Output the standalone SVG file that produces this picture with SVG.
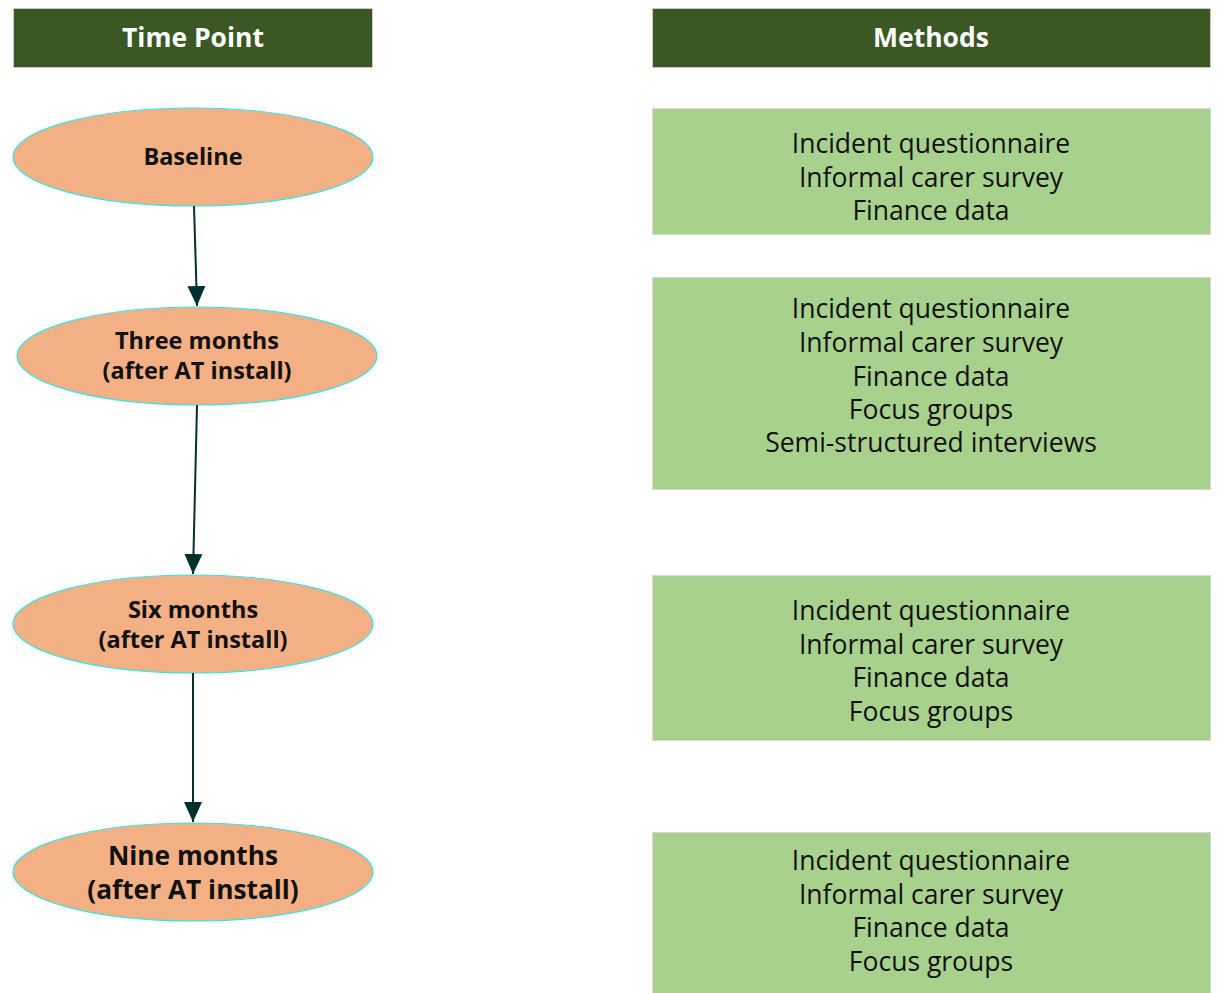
<svg xmlns="http://www.w3.org/2000/svg" width="1218" height="993" viewBox="0 0 1218 993">
<style>
.hdr{fill:#3a5724;stroke:#c8c8c8;stroke-width:1}
.hdrt{font-family:"Open Sans","Noto Sans",sans-serif;font-weight:bold;font-size:26.5px;fill:#ffffff;text-anchor:middle}
.ell{fill:#f3b085;stroke:#33e6e6;stroke-width:1.2}
.et{font-family:"Open Sans","Noto Sans",sans-serif;font-weight:bold;font-size:23.5px;fill:#111111;text-anchor:middle}
.et2{font-family:"Open Sans","Noto Sans",sans-serif;font-weight:bold;font-size:26.3px;fill:#111111;text-anchor:middle}
.box{fill:#a9d18e;stroke:#d8d8d8;stroke-width:1}
.bt{font-family:"Open Sans","Noto Sans",sans-serif;font-size:26.5px;fill:#111111;text-anchor:middle}
.conn{stroke:#00312e;stroke-width:2;fill:none}
</style>
<defs>
<marker id="arr" viewBox="0 0 20 20" refX="20" refY="10" markerWidth="20" markerHeight="20" orient="auto" markerUnits="userSpaceOnUse">
<path d="M0,1 L20,10 L0,19 z" fill="#00312e"/>
</marker>
</defs>
<g id="hdr-time"><rect class="hdr" x="13.5" y="8.5" width="359" height="59"/><text class="hdrt" x="193" y="47">Time Point</text></g>
<g id="hdr-methods"><rect class="hdr" x="652.5" y="8.5" width="558" height="59"/><text class="hdrt" x="931" y="47">Methods</text></g>
<g id="n-baseline"><ellipse class="ell" cx="193" cy="157" rx="180" ry="49"/><text class="et" x="193" y="165">Baseline</text></g>
<g id="n-three"><ellipse class="ell" cx="197" cy="356" rx="180" ry="49"/><text class="et" x="197" y="349">Three months</text><text class="et" x="197" y="379">(after AT install)</text></g>
<g id="n-six"><ellipse class="ell" cx="193" cy="624" rx="180" ry="49"/><text class="et" x="193" y="618">Six months</text><text class="et" x="193" y="648">(after AT install)</text></g>
<g id="n-nine"><ellipse class="ell" cx="193" cy="872" rx="180" ry="49"/><text class="et2" x="193" y="865">Nine months</text><text class="et2" x="193" y="899">(after AT install)</text></g>
<g id="m-baseline"><rect class="box" x="652.5" y="108.5" width="558" height="126"/>
<text class="bt" x="931" y="153">Incident questionnaire</text><text class="bt" x="931" y="187">Informal carer survey</text><text class="bt" x="931" y="220">Finance data</text></g>
<g id="m-three"><rect class="box" x="652.5" y="277.5" width="558" height="212"/>
<text class="bt" x="931" y="318">Incident questionnaire</text><text class="bt" x="931" y="352">Informal carer survey</text><text class="bt" x="931" y="386">Finance data</text><text class="bt" x="931" y="419">Focus groups</text><text class="bt" x="931" y="452">Semi-structured interviews</text></g>
<g id="m-six"><rect class="box" x="652.5" y="575.5" width="558" height="165"/>
<text class="bt" x="931" y="620">Incident questionnaire</text><text class="bt" x="931" y="654">Informal carer survey</text><text class="bt" x="931" y="687">Finance data</text><text class="bt" x="931" y="721">Focus groups</text></g>
<g id="m-nine"><rect class="box" x="652.5" y="832.5" width="558" height="170"/>
<text class="bt" x="931" y="870">Incident questionnaire</text><text class="bt" x="931" y="904">Informal carer survey</text><text class="bt" x="931" y="937">Finance data</text><text class="bt" x="931" y="971">Focus groups</text></g>
<g id="connectors">
<line class="conn" x1="194" y1="206" x2="197" y2="306" marker-end="url(#arr)"/>
<line class="conn" x1="197" y1="405" x2="193" y2="574" marker-end="url(#arr)"/>
<line class="conn" x1="193" y1="673" x2="193" y2="822" marker-end="url(#arr)"/>
</g>
</svg>
